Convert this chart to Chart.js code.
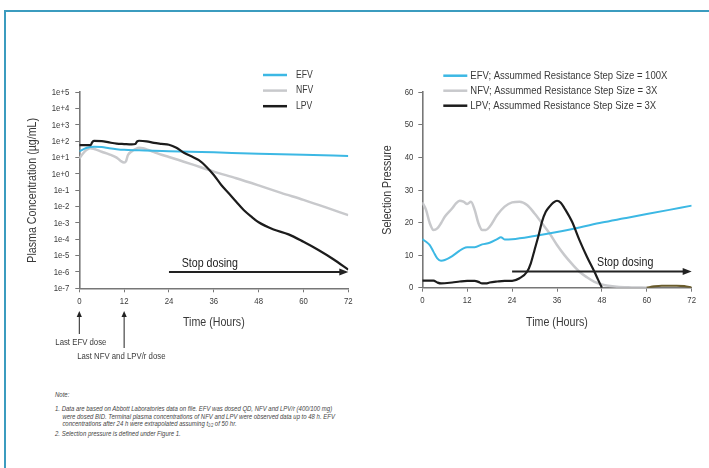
<!DOCTYPE html>
<html>
<head>
<meta charset="utf-8">
<script src="https://cdn.jsdelivr.net/npm/chart.js@4.4.1/dist/chart.umd.min.js"></script>
<style>
  html, body { margin: 0; padding: 0; background: #fff; }
  body { width: 709px; height: 468px; overflow: hidden; position: relative;
         font-family: 'Liberation Sans', Arial, sans-serif; }
  .frame { position: absolute; left: 4px; top: 10px; width: 720px; height: 480px;
           border-left: 2px solid #3b9cbf; border-top: 2px solid #3b9cbf; }
  #concChart { position: absolute; left: 0; top: 60px; }
  #pressChart { position: absolute; left: 360px; top: 60px; }
  .notes { position: absolute; left: 55px; top: 391px; font-size: 7.3px; line-height: 7.7px;
           color: #444; font-style: italic; white-space: nowrap;
           transform: scaleX(0.82); transform-origin: 0 0; }
  .notes p { margin: 0; }
  .notes .indent { padding-left: 9px; }
  .notes .gap { margin-bottom: 6.3px; }
  .notes sub { font-size: 4.5px; vertical-align: -1px; }
</style>
</head>
<body>
<div class="frame"></div>
<canvas id="concChart" width="360" height="300"></canvas>
<canvas id="pressChart" width="349" height="300"></canvas>
<div class="notes">
  <p class="gap">Note:</p>
  <p>1. Data are based on Abbott Laboratories data on file. EFV was dosed QD, NFV and LPV/r (400/100 mg)</p>
  <p class="indent">were dosed BID. Terminal plasma concentrations of NFV and LPV were observed data up to 48 h. EFV</p>
  <p class="indent">concentrations after 24 h were extrapolated assuming t<sub>1/2</sub> of 50 hr.</p>
  <p>2. Selection pressure is defined under Figure 1.</p>
</div>
<script>
// ---- Plasma concentration (µg/mL), log scale ----
const concEfvHours = [0, 2, 4, 6, 8, 10, 12, 16, 20, 24, 36, 48, 60, 72];
const concEfv      = [24, 40, 47, 45, 38, 33, 30, 28, 26, 25, 21, 17.5, 15, 12.5];

const concNfvHours = [0, 1, 2, 3, 4, 6, 8, 10, 11, 12, 12.5, 13, 14, 15, 16, 17, 18, 20, 22, 24, 30, 36, 42, 48, 54, 60, 66, 72];
const concNfv      = [9, 18, 30, 38, 34, 23, 16, 10, 6.5, 5, 6, 14, 24, 33, 40, 38, 32, 22, 15, 11, 4, 1.4, 0.55, 0.2, 0.07, 0.026, 0.009, 0.003];

const concLpvHours = [0, 3, 3.5, 4, 6, 8, 10, 12, 14, 15, 15.5, 16, 18, 20, 22, 24, 26, 28, 30, 32, 34, 36, 38, 40, 42, 44, 46, 48, 52, 56, 60, 64, 68, 72];
const concLpv      = [58, 58, 90, 105, 103, 85, 72, 68, 65, 68, 100, 108, 100, 80, 70, 62, 40, 20, 12, 7, 2.8, 0.87, 0.21, 0.066, 0.02, 0.0063, 0.0025, 0.0011, 0.0004, 0.0002, 0.00007, 0.000022, 0.000006, 0.0000014];

const concTickValues = [1e-7, 1e-6, 1e-5, 1e-4, 1e-3, 1e-2, 1e-1, 1e0, 1e1, 1e2, 1e3, 1e4, 1e5];
const concTickLabels = ['1e-7', '1e-6', '1e-5', '1e-4', '1e-3', '1e-2', '1e-1', '1e+0', '1e+1', '1e+2', '1e+3', '1e+4', '1e+5'];

// ---- Selection pressure ----
const pressEfvHours = [0, 1, 2, 3, 4, 5, 6, 8, 10, 11, 12, 14, 16, 18, 20, 21, 22, 24, 30, 36, 42, 48, 54, 60, 66, 72];
const pressEfv      = [14.9, 14.1, 13.1, 11, 9, 8.3, 8.5, 9.7, 11.4, 12.1, 12.4, 12.4, 13.3, 13.8, 14.9, 15.5, 14.8, 14.9, 15.9, 17.1, 18.5, 20, 21.3, 22.6, 23.9, 25.2];

const pressNfvHours = [0, 1, 2, 3, 4, 5, 6, 8, 9, 10, 11, 12, 13, 14, 15, 16, 17, 18, 20, 22, 24, 26, 28, 30, 32, 34, 36, 38, 40, 42, 44, 46, 48, 52, 56, 60];
const pressNfv      = [26.2, 23.9, 19.8, 17.7, 18.2, 19.8, 21.8, 24.4, 25.9, 26.7, 26.4, 25.7, 26.4, 23.9, 19.8, 17.7, 17.7, 18.7, 22.3, 24.9, 26.2, 26.4, 25.4, 22.8, 19.8, 16.7, 13.1, 10, 7.3, 4.9, 3.2, 1.8, 1.0, 0.3, 0.1, 0];

const pressLpvHours = [0, 3, 4, 5, 8, 10, 12, 14, 15, 16, 17, 18, 20, 22, 24, 26, 28, 29, 30, 31, 32, 33, 34, 35, 36, 37, 38, 40, 42, 44, 46, 47, 48, 54, 60, 62, 64, 66, 68, 70, 72];
const pressLpv      = [2.15, 2.15, 1.6, 1.3, 1.6, 1.9, 2.1, 2.1, 1.8, 1.3, 1.3, 1.6, 1.9, 2.1, 2.1, 2.9, 4.9, 7.5, 11.6, 15.7, 20.3, 23.3, 24.9, 26.1, 26.7, 26.1, 24.4, 20.3, 14.6, 9.5, 4.9, 2.4, 0, null, 0, 0.4, 0.6, 0.6, 0.6, 0.5, 0];

const hourTicks = [0, 12, 24, 36, 48, 60, 72];

const FONT = "'Liberation Sans', Arial, sans-serif";
const CONDENSE = 0.82;          // horizontal squeeze giving a narrow typeface look
const TEXT = '#3a3a3a';
const AXIS = '#777777';
const EFV_COLOR = '#3cb8e4';
const NFV_COLOR = '#c8c9cc';
const LPV_COLOR = '#1c1c1c';

const pts = (hs, vs) => hs.map((h, i) => ({ x: h, y: vs[i] }));

// Narrow lettering: every text draw on the chart canvas is squeezed about its anchor point
const condensedText = {
  id: 'condensedText',
  beforeInit(chart) {
    const ctx = chart.ctx;
    const fill = ctx.fillText.bind(ctx);
    ctx.fillText = function (text, x, y) {
      ctx.save();
      ctx.translate(x, y);
      ctx.scale(CONDENSE, 1);
      fill(text, 0, 0);
      ctx.restore();
    };
  }
};

function drawArrow(ctx, x1, y1, x2, y2, len, half, width, color) {
  const ang = Math.atan2(y2 - y1, x2 - x1);
  ctx.strokeStyle = color; ctx.fillStyle = color; ctx.lineWidth = width;
  ctx.beginPath();
  ctx.moveTo(x1, y1);
  ctx.lineTo(x2 - Math.cos(ang) * len * 0.8, y2 - Math.sin(ang) * len * 0.8);
  ctx.stroke();
  ctx.beginPath();
  ctx.moveTo(x2, y2);
  ctx.lineTo(x2 - Math.cos(ang) * len - Math.sin(ang) * half, y2 - Math.sin(ang) * len + Math.cos(ang) * half);
  ctx.lineTo(x2 - Math.cos(ang) * len + Math.sin(ang) * half, y2 - Math.sin(ang) * len - Math.cos(ang) * half);
  ctx.closePath();
  ctx.fill();
}

// Legend, "Stop dosing" arrow and dose markers drawn on top of each chart
const overlay = {
  id: 'overlay',
  afterDraw(chart, args, o) {
    const ctx = chart.ctx, xs = chart.scales.x, ys = chart.scales.y;
    ctx.save();
    // legend
    ctx.font = o.legendFont + 'px ' + FONT;
    ctx.textBaseline = 'middle';
    ctx.textAlign = 'left';
    chart.data.datasets.forEach((ds, i) => {
      const y = o.legendY + i * o.legendGap;
      ctx.strokeStyle = ds.borderColor; ctx.lineWidth = 2.5;
      ctx.beginPath(); ctx.moveTo(o.legendX, y); ctx.lineTo(o.legendX + 24, y); ctx.stroke();
      ctx.fillStyle = TEXT;
      ctx.fillText(ds.label, o.legendX + 24 + o.legendTextGap, y);
    });
    // stop dosing arrow
    const ay = ys.getPixelForValue(o.stopY);
    drawArrow(ctx, xs.getPixelForValue(24), ay, xs.getPixelForValue(72), ay, 9, 3.5, 2, '#222');
    ctx.font = '13px ' + FONT;
    ctx.fillStyle = '#222';
    ctx.fillText('Stop dosing', xs.getPixelForValue(o.stopTextHour), ay - 9);
    // dose markers below the time axis
    const base = chart.chartArea.bottom;
    (o.doses || []).forEach(d => {
      const x = xs.getPixelForValue(d.hour);
      const tip = base + d.tipOffset;
      drawArrow(ctx, x, tip + d.len, x, tip, 6, 2.6, 1, '#222');
      ctx.font = '9.5px ' + FONT;
      ctx.fillStyle = TEXT;
      ctx.fillText(d.text, x + d.textDx, tip + d.len + 8);
    });
    ctx.restore();
  }
};

function timeAxis(height) {
  return {
    type: 'linear', min: 0, max: 72,
    afterBuildTicks: s => { s.ticks = hourTicks.map(v => ({ value: v })); },
    afterFit: s => { s.height = height; },
    grid: { display: true, drawOnChartArea: false, drawTicks: true, tickLength: 4, color: AXIS, lineWidth: 1 },
    border: { display: true, color: AXIS, width: 1.6 },
    ticks: { font: { family: FONT, size: 9.5 }, color: TEXT, padding: 3, maxRotation: 0 },
    title: { display: true, text: 'Time (Hours)', font: { family: FONT, size: 13 }, color: TEXT, padding: { top: 0, bottom: 0 } }
  };
}

const commonOptions = {
  responsive: false,
  animation: false,
  devicePixelRatio: 1,
  elements: { point: { radius: 0 }, line: { cubicInterpolationMode: 'monotone' } },
  plugins: { legend: { display: false }, tooltip: { enabled: false } }
};

new Chart(document.getElementById('concChart'), {
  type: 'line',
  data: {
    datasets: [
      { label: 'EFV', data: pts(concEfvHours, concEfv), borderColor: EFV_COLOR, borderWidth: 2, order: 1 },
      { label: 'NFV', data: pts(concNfvHours, concNfv), borderColor: NFV_COLOR, borderWidth: 2.5, order: 2 },
      { label: 'LPV', data: pts(concLpvHours, concLpv), borderColor: LPV_COLOR, borderWidth: 2.2, order: 0 }
    ]
  },
  options: {
    ...commonOptions,
    layout: { padding: { top: 32.3, right: 11.7, bottom: 30, left: 0 } },
    scales: {
      x: timeAxis(41.7),
      y: {
        type: 'logarithmic', min: 1e-7, max: 1e5,
        afterBuildTicks: s => { s.ticks = concTickValues.map(v => ({ value: v })); },
        afterFit: s => { s.width = 79.3; },
        grid: { display: true, drawOnChartArea: false, drawTicks: true, tickLength: 4, color: AXIS, lineWidth: 1 },
        border: { display: true, color: AXIS, width: 1.6 },
        ticks: { font: { family: FONT, size: 9.5 }, color: TEXT, padding: 6,
                 callback: (v, i) => concTickLabels[i] },
        title: { display: true, text: 'Plasma Concentration (µg/mL)', font: { family: FONT, size: 13 }, color: TEXT,
                 padding: { top: 24.5, bottom: 0 } }
      }
    },
    plugins: {
      ...commonOptions.plugins,
      overlay: {
        legendX: 263, legendY: 15, legendGap: 15.6, legendFont: 10.5, legendTextGap: 9,
        stopY: 1e-6, stopTextHour: 27.4,
        doses: [
          { hour: 0, tipOffset: 22.7, len: 23, text: 'Last EFV dose', textDx: -24 },
          { hour: 12, tipOffset: 22.7, len: 37, text: 'Last NFV and LPV/r dose', textDx: -47 }
        ]
      }
    }
  },
  plugins: [condensedText, overlay]
});

new Chart(document.getElementById('pressChart'), {
  type: 'line',
  data: {
    datasets: [
      { label: 'EFV; Assummed Resistance Step Size = 100X', data: pts(pressEfvHours, pressEfv), borderColor: EFV_COLOR, borderWidth: 2, order: 1 },
      { label: 'NFV; Assummed Resistance Step Size = 3X', data: pts(pressNfvHours, pressNfv), borderColor: NFV_COLOR, borderWidth: 2.5, order: 2 },
      { label: 'LPV; Assummed Resistance Step Size = 3X', data: pts(pressLpvHours, pressLpv), borderColor: LPV_COLOR, borderWidth: 2.2, order: 0,
        segment: { borderColor: c => (c.p0.parsed.x >= 60 ? '#6a5c2c' : undefined) } }
    ]
  },
  options: {
    ...commonOptions,
    layout: { padding: { top: 32.3, right: 17.3, bottom: 30, left: 0 } },
    scales: {
      x: timeAxis(42.3),
      y: {
        type: 'linear', min: 0, max: 60,
        ticks: { stepSize: 10, font: { family: FONT, size: 9.5 }, color: TEXT, padding: 5 },
        afterFit: s => { s.width = 62.3; },
        grid: { display: true, drawOnChartArea: false, drawTicks: true, tickLength: 4, color: AXIS, lineWidth: 1 },
        border: { display: true, color: AXIS, width: 1.6 },
        title: { display: true, text: 'Selection Pressure', font: { family: FONT, size: 13 }, color: TEXT,
                 padding: { top: 19.5, bottom: 0 } }
      }
    },
    plugins: {
      ...commonOptions.plugins,
      overlay: {
        legendX: 83.3, legendY: 15.7, legendGap: 15, legendFont: 11.6, legendTextGap: 3,
        stopY: 5, stopTextHour: 46.7
      }
    }
  },
  plugins: [condensedText, overlay]
});
</script>
</body>
</html>
